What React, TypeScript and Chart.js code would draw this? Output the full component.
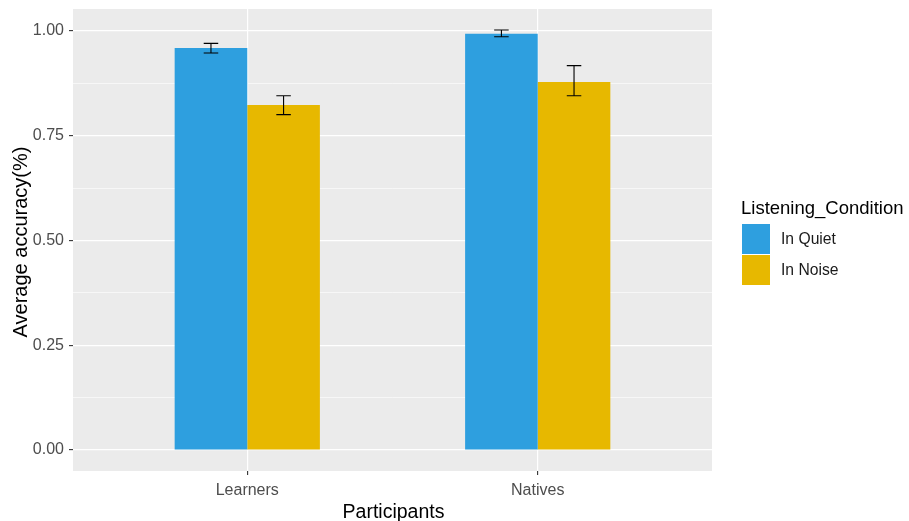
import React, { useEffect, useRef } from "react";
import { Chart, registerables } from "chart.js";

Chart.register(...registerables);

// Participant groups along the x axis
const categories = ["Learners", "Natives"];
// Listening conditions (one bar per group each)
const conditions = ["In Quiet", "In Noise"];
const conditionColors = ["#2E9FDF", "#E7B800"];

// Mean accuracy with lower / upper error bounds
const quietMeans = [0.959, 0.993];
const quietLower = [0.947, 0.986];
const quietUpper = [0.97, 1.002];

const noiseMeans = [0.823, 0.878];
const noiseLower = [0.8, 0.845];
const noiseUpper = [0.845, 0.917];

// Axis ticks
const yMajorTicks = [0, 0.25, 0.5, 0.75, 1];
const yMinorTicks = [0.125, 0.375, 0.625, 0.875];

const FONT = "'Liberation Sans', Arial, sans-serif";

const isMajor = (v: number) => yMajorTicks.some((t) => Math.abs(t - v) < 1e-9);

// Grey panel behind the plot area
const panelPlugin = {
  id: "panel",
  beforeDraw(chart: any) {
    const { ctx, chartArea } = chart;
    ctx.save();
    ctx.fillStyle = "#EBEBEB";
    ctx.fillRect(chartArea.left, chartArea.top, chartArea.right - chartArea.left, chartArea.bottom - chartArea.top);
    ctx.restore();
  },
};

// Error bars with whiskers, drawn from each dataset's bounds
const errorBarPlugin = {
  id: "errorBars",
  afterDatasetsDraw(chart: any) {
    const { ctx } = chart;
    const xScale = chart.scales.x;
    const yScale = chart.scales.y;
    const half = Math.abs(xScale.getPixelForValue(1.025) - xScale.getPixelForValue(1));
    ctx.save();
    ctx.strokeStyle = "#000000";
    ctx.lineWidth = 1.1;
    chart.data.datasets.forEach((ds: any, di: number) => {
      const meta = chart.getDatasetMeta(di);
      meta.data.forEach((bar: any, i: number) => {
        const x = bar.x;
        const yLo = yScale.getPixelForValue(ds.errLow[i]);
        const yHi = yScale.getPixelForValue(ds.errHigh[i]);
        ctx.beginPath();
        ctx.moveTo(x, yLo);
        ctx.lineTo(x, yHi);
        ctx.moveTo(x - half, yLo);
        ctx.lineTo(x + half, yLo);
        ctx.moveTo(x - half, yHi);
        ctx.lineTo(x + half, yHi);
        ctx.stroke();
      });
    });
    ctx.restore();
  },
};

// Axis titles and the legend on the right
const annotationPlugin = {
  id: "titlesAndLegend",
  afterDraw(chart: any) {
    const { ctx, chartArea } = chart;
    ctx.save();
    ctx.fillStyle = "#000000";
    ctx.textBaseline = "alphabetic";

    // x title
    ctx.font = `19.5px ${FONT}`;
    ctx.textAlign = "center";
    ctx.fillText("Participants", (chartArea.left + chartArea.right) / 2 + 1, 518);

    // y title
    ctx.save();
    ctx.font = `20px ${FONT}`;
    ctx.translate(27, (chartArea.top + chartArea.bottom) / 2 + 2);
    ctx.rotate(-Math.PI / 2);
    ctx.textAlign = "center";
    ctx.fillText("Average accuracy(%)", 0, 0);
    ctx.restore();

    // legend
    ctx.font = `18.5px ${FONT}`;
    ctx.textAlign = "left";
    ctx.fillText("Listening_Condition", 741, 214);
    ctx.font = `15.7px ${FONT}`;
    ctx.textBaseline = "middle";
    chart.data.datasets.forEach((ds: any, i: number) => {
      const top = 224 + i * 31;
      ctx.fillStyle = ds.backgroundColor;
      ctx.fillRect(742, top, 28, 30);
      ctx.fillStyle = "#1A1A1A";
      ctx.fillText(ds.label, 781, top + 16);
    });
    ctx.restore();
  },
};

export default function App() {
  const canvasRef = useRef<HTMLCanvasElement | null>(null);

  useEffect(() => {
    if (!canvasRef.current) return;
    const series = [
      { means: quietMeans, lo: quietLower, hi: quietUpper },
      { means: noiseMeans, lo: noiseLower, hi: noiseUpper },
    ];
    const chart = new Chart(canvasRef.current, {
      type: "bar",
      data: {
        datasets: conditions.map((label, k) => ({
          label,
          data: categories.map((_, i) => ({ x: i + 1, y: series[k].means[i] })),
          backgroundColor: conditionColors[k],
          borderWidth: 0,
          barPercentage: 1,
          categoryPercentage: 0.5,
          errLow: series[k].lo,
          errHigh: series[k].hi,
        })) as any,
      },
      options: {
        responsive: false,
        animation: false,
        events: [],
        layout: { padding: { left: 0, right: 197, top: 9, bottom: 0 } },
        plugins: { legend: { display: false }, tooltip: { enabled: false } },
        scales: {
          x: {
            type: "linear",
            min: 0.4,
            max: 2.6,
            offset: false,
            afterBuildTicks: (scale: any) => {
              scale.ticks = categories.map((_, i) => ({ value: i + 1 }));
            },
            afterFit: (scale: any) => {
              scale.height = 50;
              scale.paddingLeft = 0;
              scale.paddingRight = 0;
            },
            grid: {
              offset: false,
              color: "#FFFFFF",
              lineWidth: 1.2,
              tickColor: "#333333",
              tickWidth: 1.1,
              tickLength: 4,
            },
            border: { display: false },
            ticks: {
              autoSkip: false,
              maxRotation: 0,
              padding: 6,
              color: "#4D4D4D",
              font: { family: FONT, size: 16 },
              callback: (v: any) => categories[Math.round(Number(v)) - 1] ?? "",
            },
          },
          y: {
            type: "linear",
            min: -0.0501,
            max: 1.0521,
            afterBuildTicks: (scale: any) => {
              scale.ticks = [...yMajorTicks, ...yMinorTicks]
                .sort((a, b) => a - b)
                .map((v) => ({ value: v }));
            },
            afterFit: (scale: any) => {
              scale.width = 73;
              scale.paddingTop = 0;
              scale.paddingBottom = 0;
            },
            grid: {
              color: "#FFFFFF",
              lineWidth: (c: any) => (isMajor(c.tick.value) ? 1.2 : 0.6),
              tickColor: (c: any) => (isMajor(c.tick.value) ? "#333333" : "rgba(0,0,0,0)"),
              tickWidth: 1.1,
              tickLength: 4,
            },
            border: { display: false },
            ticks: {
              autoSkip: false,
              padding: 5,
              color: "#4D4D4D",
              font: { family: FONT, size: 16 },
              callback: (v: any) => (isMajor(Number(v)) ? Number(v).toFixed(2) : ""),
            },
          },
        },
      } as any,
      plugins: [panelPlugin, errorBarPlugin, annotationPlugin],
    });
    return () => chart.destroy();
  }, []);

  return (
    <div style={{ position: "absolute", left: 0, top: 0, width: 909, height: 521, background: "#FFFFFF" }}>
      <canvas ref={canvasRef} width={909} height={521} />
    </div>
  );
}
